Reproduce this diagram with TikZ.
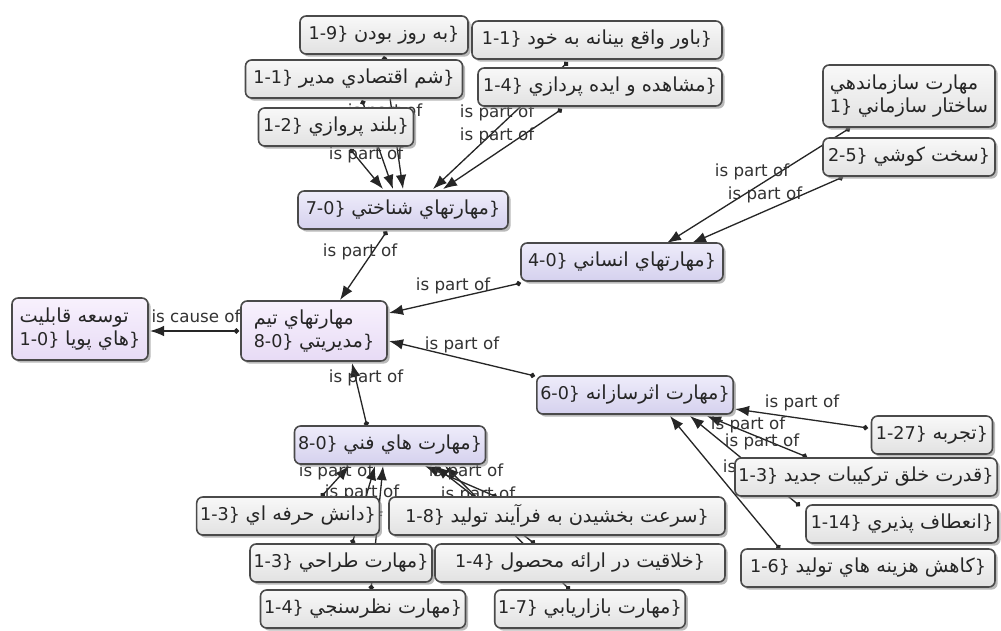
\documentclass[tikz,border=0pt]{standalone}
\usepackage{fontspec}
\setmainfont{DejaVu Sans}
\newfontfamily\fa[Script=Arabic, Scale=1.1]{DejaVu Sans}
\TeXXeTstate=1
\usetikzlibrary{arrows.meta,shadows,calc}
\pgfdeclarelayer{bg}
\pgfsetlayers{bg,main}
\definecolor{edgegray}{HTML}{262626}
\definecolor{boxline}{HTML}{4A4A4A}
\definecolor{leaftop}{HTML}{F8F8F8}
\definecolor{leafbot}{HTML}{E2E2E2}
\definecolor{skilltop}{HTML}{EEECFA}
\definecolor{skillbot}{HTML}{D5D1EE}
\definecolor{teamtop}{HTML}{F8F1FD}
\definecolor{teambot}{HTML}{E7DBF5}
% 概念文字:编号在左,波斯文在右
\newcommand{\cpt}[2]{#1\} {\fa\beginR #2\endR}\}}

\begin{document}
\begin{tikzpicture}[x=0.02cm, y=-0.02cm,
    box/.style={rectangle, rounded corners=3.5pt, draw=boxline, line width=0.9pt,
      inner sep=2pt, minimum height=38*0.02cm, text=black!85,
      font=\fontsize{10}{13}\selectfont,
      drop shadow={shadow xshift=1.5pt, shadow yshift=-1.5pt, fill=black!45, opacity=0.6}},
    leaf/.style={box, top color=leaftop, bottom color=leafbot},
    skill/.style={box, top color=skilltop, bottom color=skillbot},
    team/.style={box, top color=teamtop, bottom color=teambot, align=left,
      minimum height=60*0.02cm},
    ipo/.style={draw=edgegray, line width=0.75pt,
      {Circle[length=3pt]}-{Latex[length=8pt,width=6pt]}},
    lbl/.style={font=\fontsize{9.5}{11}\selectfont, text=black!80, inner sep=0pt}]

    % 画布大小 (像素)
    \useasboundingbox (0,0) rectangle (1001,630);

    % 叶子概念(灰色)
    \foreach \nm/\px/\py/\bw/\num/\txt in {
        r1/384/35/168/1-9/به روز بودن,
        r2/354/79/217/1-1/شم اقتصادي مدير,
        r3/336/127/155/1-2/بلند پروازي,
        r4/597/40/250/1-1/باور واقع بينانه به خود,
        r5/600/87/244/1-4/مشاهده و ايده پردازي,
        r7/909/157/172/2-5/سخت كوشي,
        r8/932/435/121/1-27/تجربه,
        r9/866/477/258/1-3/قدرت خلق تركيبات جديد,
        r10/902/524/192/1-14/انعطاف پذيري,
        r11/868/568/254/1-6/كاهش هزينه هاي توليد,
        r12/288/516/173/1-3/دانش حرفه اي,
        r13/557/516/336/1-8/سرعت بخشيدن به فرآيند توليد,
        r14/341/563/166/1-3/مهارت طراحي,
        r15/580/563/290/1-4/خلاقيت در ارائه محصول,
        r16/363/609/187/1-4/مهارت نظرسنجي,
        r17/590/609/170/1-7/مهارت بازاريابي} {
      \node[leaf, minimum width=\bw*0.02cm] (\nm) at (\px,\py) {\cpt{\num}{\txt}};
    }
    \node[leaf, align=left, minimum width=172*0.02cm, minimum height=62*0.02cm] (r6)
      at (909,96) {{\fa\beginR مهارت سازماندهي\endR}\\1\} {\fa\beginR ساختار سازماني\endR}};

    % 中间概念(紫色)
    \foreach \nm/\px/\py/\bw/\num/\txt in {
        p1/403/210/210/7-0/مهارتهاي شناختي,
        p2/622/262/202/4-0/مهارتهاي انساني,
        p3/635/395/196/6-0/مهارت اثرسازانه,
        p4/390/445/190/8-0/مهارت هاي فني} {
      \node[skill, minimum width=\bw*0.02cm] (\nm) at (\px,\py) {\cpt{\num}{\txt}};
    }
    \node[team, minimum width=146*0.02cm] (p5) at (314,331)
      {{\fa\beginR مهارتهاي تيم\endR}\\\cpt{8-0}{مديريتي}};
    \node[team, minimum width=136*0.02cm, minimum height=62*0.02cm] (p6) at (80,329)
      {{\fa\beginR توسعه قابليت\endR}\\\cpt{1-0}{هاي پويا}};

    \begin{pgfonlayer}{bg}
      \fill[white] (0,0) rectangle (1001,630);

      % 连线:子概念 -> 父概念
      \foreach \a/\ax/\ay/\b/\bx/\by in {
          r1/0/21/p1/0/-21, r2/8/21/p1/-10/-21, r3/14/22/p1/-20/-21,
          r4/-29/22/p1/30/-21, r5/-38/22/p1/40/-21,
          r6/-59/32/p2/45/-19, r7/-66/20/p2/70/-19,
          p1/-16/21/p5/26/-31, p2/-101/21/p5/75/-18, p3/-100/-19/p5/75/10,
          p4/-23/-19/p5/38/32,
          r8/-64/-7/p3/100/14, r9/-59/-20/p3/72/21, r10/-102/-18/p3/55/21,
          r11/-88/-19/p3/35/21,
          r12/33/-19/p4/-41/21, r14/11/-19/p4/-15/21, r16/8/-19/p4/-7/21,
          r13/-60/-19/p4/35/21, r15/-45/-19/p4/45/21, r17/-20/-19/p4/55/21} {
        \draw[ipo] ($(\a)+(\ax,\ay)$) -- ($(\b)+(\bx,\by)$);
      }
      \draw[ipo] ($(p5)+(-75,0)$) -- ($(p6)+(70,2)$);

      % 连线标签
      \foreach \lx/\ly [count=\i] in {
          375/128, 385/112, 366/155, 497/113, 497/136, 752/172, 765/195,
          360/252, 453/286, 462/345, 366/378, 802/403, 762/442, 748/425,
          760/468, 336/472, 362/493, 466/472, 478/495, 345/520, 480/516} {
        \node[lbl] (l\i) at (\lx,\ly) {is part of};
      }
      \node[lbl] (lc) at (196,316) {is cause of};
    \end{pgfonlayer}

\end{tikzpicture}
\end{document}
